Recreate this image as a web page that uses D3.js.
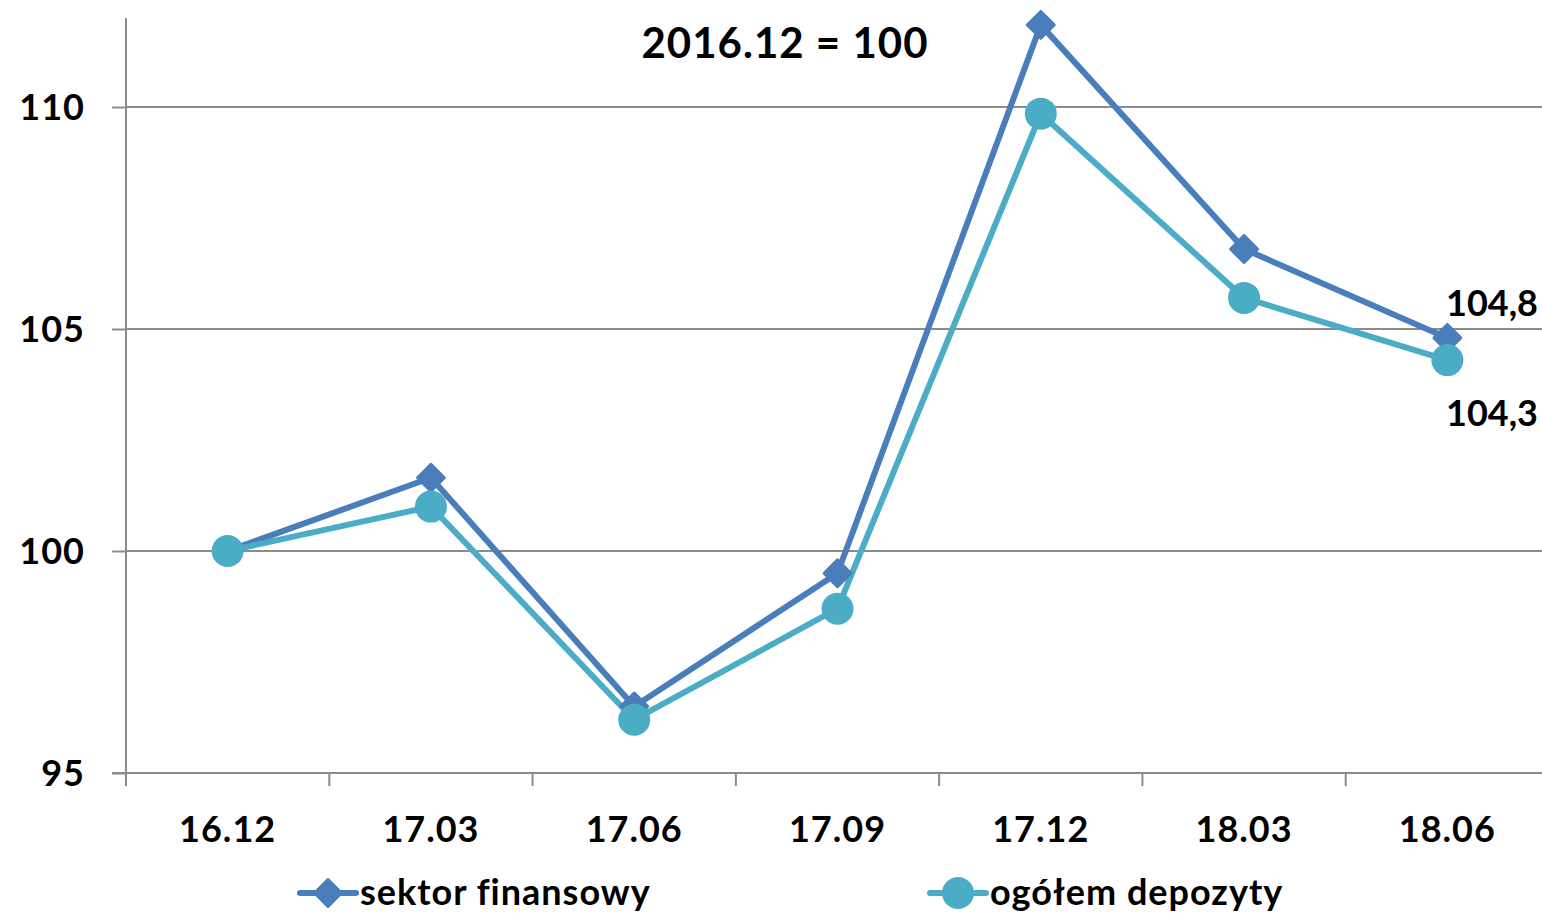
<!DOCTYPE html>
<html lang="pl">
<head>
	<meta charset="UTF-8">
	<title>2016.12 = 100</title>
	<script src="https://cdn.jsdelivr.net/npm/d3@7"></script>
	<style>
		body { margin: 0; background: #fff; }
		svg { display: block; font-family: Lato, "Open Sans", sans-serif; font-weight: bold; }
		svg text { letter-spacing: 1px; }
		svg text.koniec { letter-spacing: 0px; }
	</style>
</head>
<body>
	<svg id="grafico" width="1542" height="916"></svg>
	<script>
	// dane
	var okresy = ["16.12", "17.03", "17.06", "17.09", "17.12", "18.03", "18.06"];
	var sektorFinansowy = [100, 101.65, 96.5, 99.5, 111.85, 106.8, 104.8];
	var ogolemDepozyty = [100, 101.0, 96.2, 98.7, 109.85, 105.7, 104.3];
	var yTicks = [95, 100, 105, 110];
	var nazwy = ["sektor finansowy", "ogółem depozyty"];
	var kolory = ["#4a7ebb", "#4bacc6"];

	var svg = d3.select("#grafico");
	var x0 = 126, x1 = 1549, yTop = 18, yBottom = 773;
	var fs = "36px";

	var x = d3.scaleBand().domain(okresy).range([x0, x1]);
	var y = d3.scaleLinear().domain([95, 110]).range([yBottom, 107]);

	// siatka
	svg.append("g").selectAll("line").data(yTicks.slice(1)).enter()
		.append("line")
		.attr("x1", x0).attr("x2", 1542)
		.attr("y1", function(d){ return y(d); }).attr("y2", function(d){ return y(d); })
		.attr("stroke", "#8c8c8c").attr("stroke-width", 2);

	// os Y
	var yAxis = svg.append("g").attr("transform", "translate(" + x0 + ",0)")
		.call(d3.axisLeft(y).tickValues(yTicks).tickSize(14).tickPadding(27).tickFormat(d3.format("d")));
	yAxis.select(".domain").remove();
	yAxis.append("line").attr("x1", 0).attr("x2", 0).attr("y1", yTop).attr("y2", yBottom + 13)
		.attr("stroke", "#8c8c8c").attr("stroke-width", 2);

	// os X
	var xAxis = svg.append("g").attr("transform", "translate(0," + yBottom + ")");
	xAxis.append("line").attr("x1", x0 - 14).attr("x2", 1542).attr("y1", 0).attr("y2", 0)
		.attr("stroke", "#8c8c8c").attr("stroke-width", 2);
	xAxis.selectAll(".tk").data(okresy.slice(1)).enter()
		.append("line").attr("class", "tk")
		.attr("x1", function(d){ return x(d); }).attr("x2", function(d){ return x(d); })
		.attr("y1", 0).attr("y2", 13)
		.attr("stroke", "#8c8c8c").attr("stroke-width", 2);
	xAxis.selectAll("text").data(okresy).enter()
		.append("text")
		.attr("x", function(d){ return x(d) + x.bandwidth() / 2; })
		.attr("y", 69)
		.attr("text-anchor", "middle")
		.style("font-size", fs)
		.text(function(d){ return d; });

	yAxis.selectAll(".tick line").attr("stroke", "#8c8c8c").attr("stroke-width", 2);
	yAxis.selectAll(".tick text").style("font-size", fs).style("font-family", "Lato, sans-serif")
		.attr("fill", "#000").attr("dy", "0.35em");

	var cx = function(d, i){ return x(okresy[i]) + x.bandwidth() / 2; };
	var linia = d3.line().x(cx).y(function(d){ return y(d); });

	var serie = [sektorFinansowy, ogolemDepozyty];
	serie.forEach(function(s, k){
		svg.append("path").datum(s)
			.attr("d", linia)
			.attr("fill", "none")
			.attr("stroke", kolory[k])
			.attr("stroke-width", 6)
			.attr("stroke-linejoin", "round");
	});

	var romb = d3.symbol().type(d3.symbolSquare).size(360);
	svg.append("g").selectAll("path").data(sektorFinansowy).enter()
		.append("path")
		.attr("d", romb)
		.attr("transform", function(d, i){ return "translate(" + cx(d, i) + "," + y(d) + ") rotate(45)"; })
		.attr("fill", kolory[0]).attr("stroke", kolory[0]).attr("stroke-width", 3).attr("stroke-linejoin", "round");

	svg.append("g").selectAll("circle").data(ogolemDepozyty).enter()
		.append("circle")
		.attr("cx", cx).attr("cy", function(d){ return y(d); })
		.attr("r", 16)
		.attr("fill", kolory[1]);

	// etykiety koncowe
	var last = okresy.length - 1;
	svg.append("text").attr("class", "koniec").attr("x", 1446).attr("y", y(sektorFinansowy[last]) - 22)
		.style("font-size", fs).text(d3.format(".1f")(sektorFinansowy[last]).replace(".", ","));
	svg.append("text").attr("class", "koniec").attr("x", 1446).attr("y", y(ogolemDepozyty[last]) + 66)
		.style("font-size", fs).text(d3.format(".1f")(ogolemDepozyty[last]).replace(".", ","));

	// tytul
	svg.append("text").attr("x", 785).attr("y", 58).attr("text-anchor", "middle")
		.style("font-size", "42px").text("2016.12 = 100");

	// legenda
	var leg = [{x: 300}, {x: 930}];
	leg.forEach(function(l, k){
		var g = svg.append("g").attr("transform", "translate(" + l.x + ",893)");
		g.append("line").attr("x1", 0).attr("x2", 56).attr("y1", 0).attr("y2", 0)
			.attr("stroke", kolory[k]).attr("stroke-width", 6).attr("stroke-linecap", "round");
		if (k === 0) {
			g.append("path").attr("d", romb).attr("transform", "translate(28,0) rotate(45)")
				.attr("fill", kolory[0]).attr("stroke", kolory[0]).attr("stroke-width", 3).attr("stroke-linejoin", "round");
		} else {
			g.append("circle").attr("cx", 28).attr("cy", 0).attr("r", 16).attr("fill", kolory[1]);
		}
		g.append("text").attr("x", 60).attr("y", 12).style("font-size", fs).text(nazwy[k]);
	});
	</script>
</body>
</html>
